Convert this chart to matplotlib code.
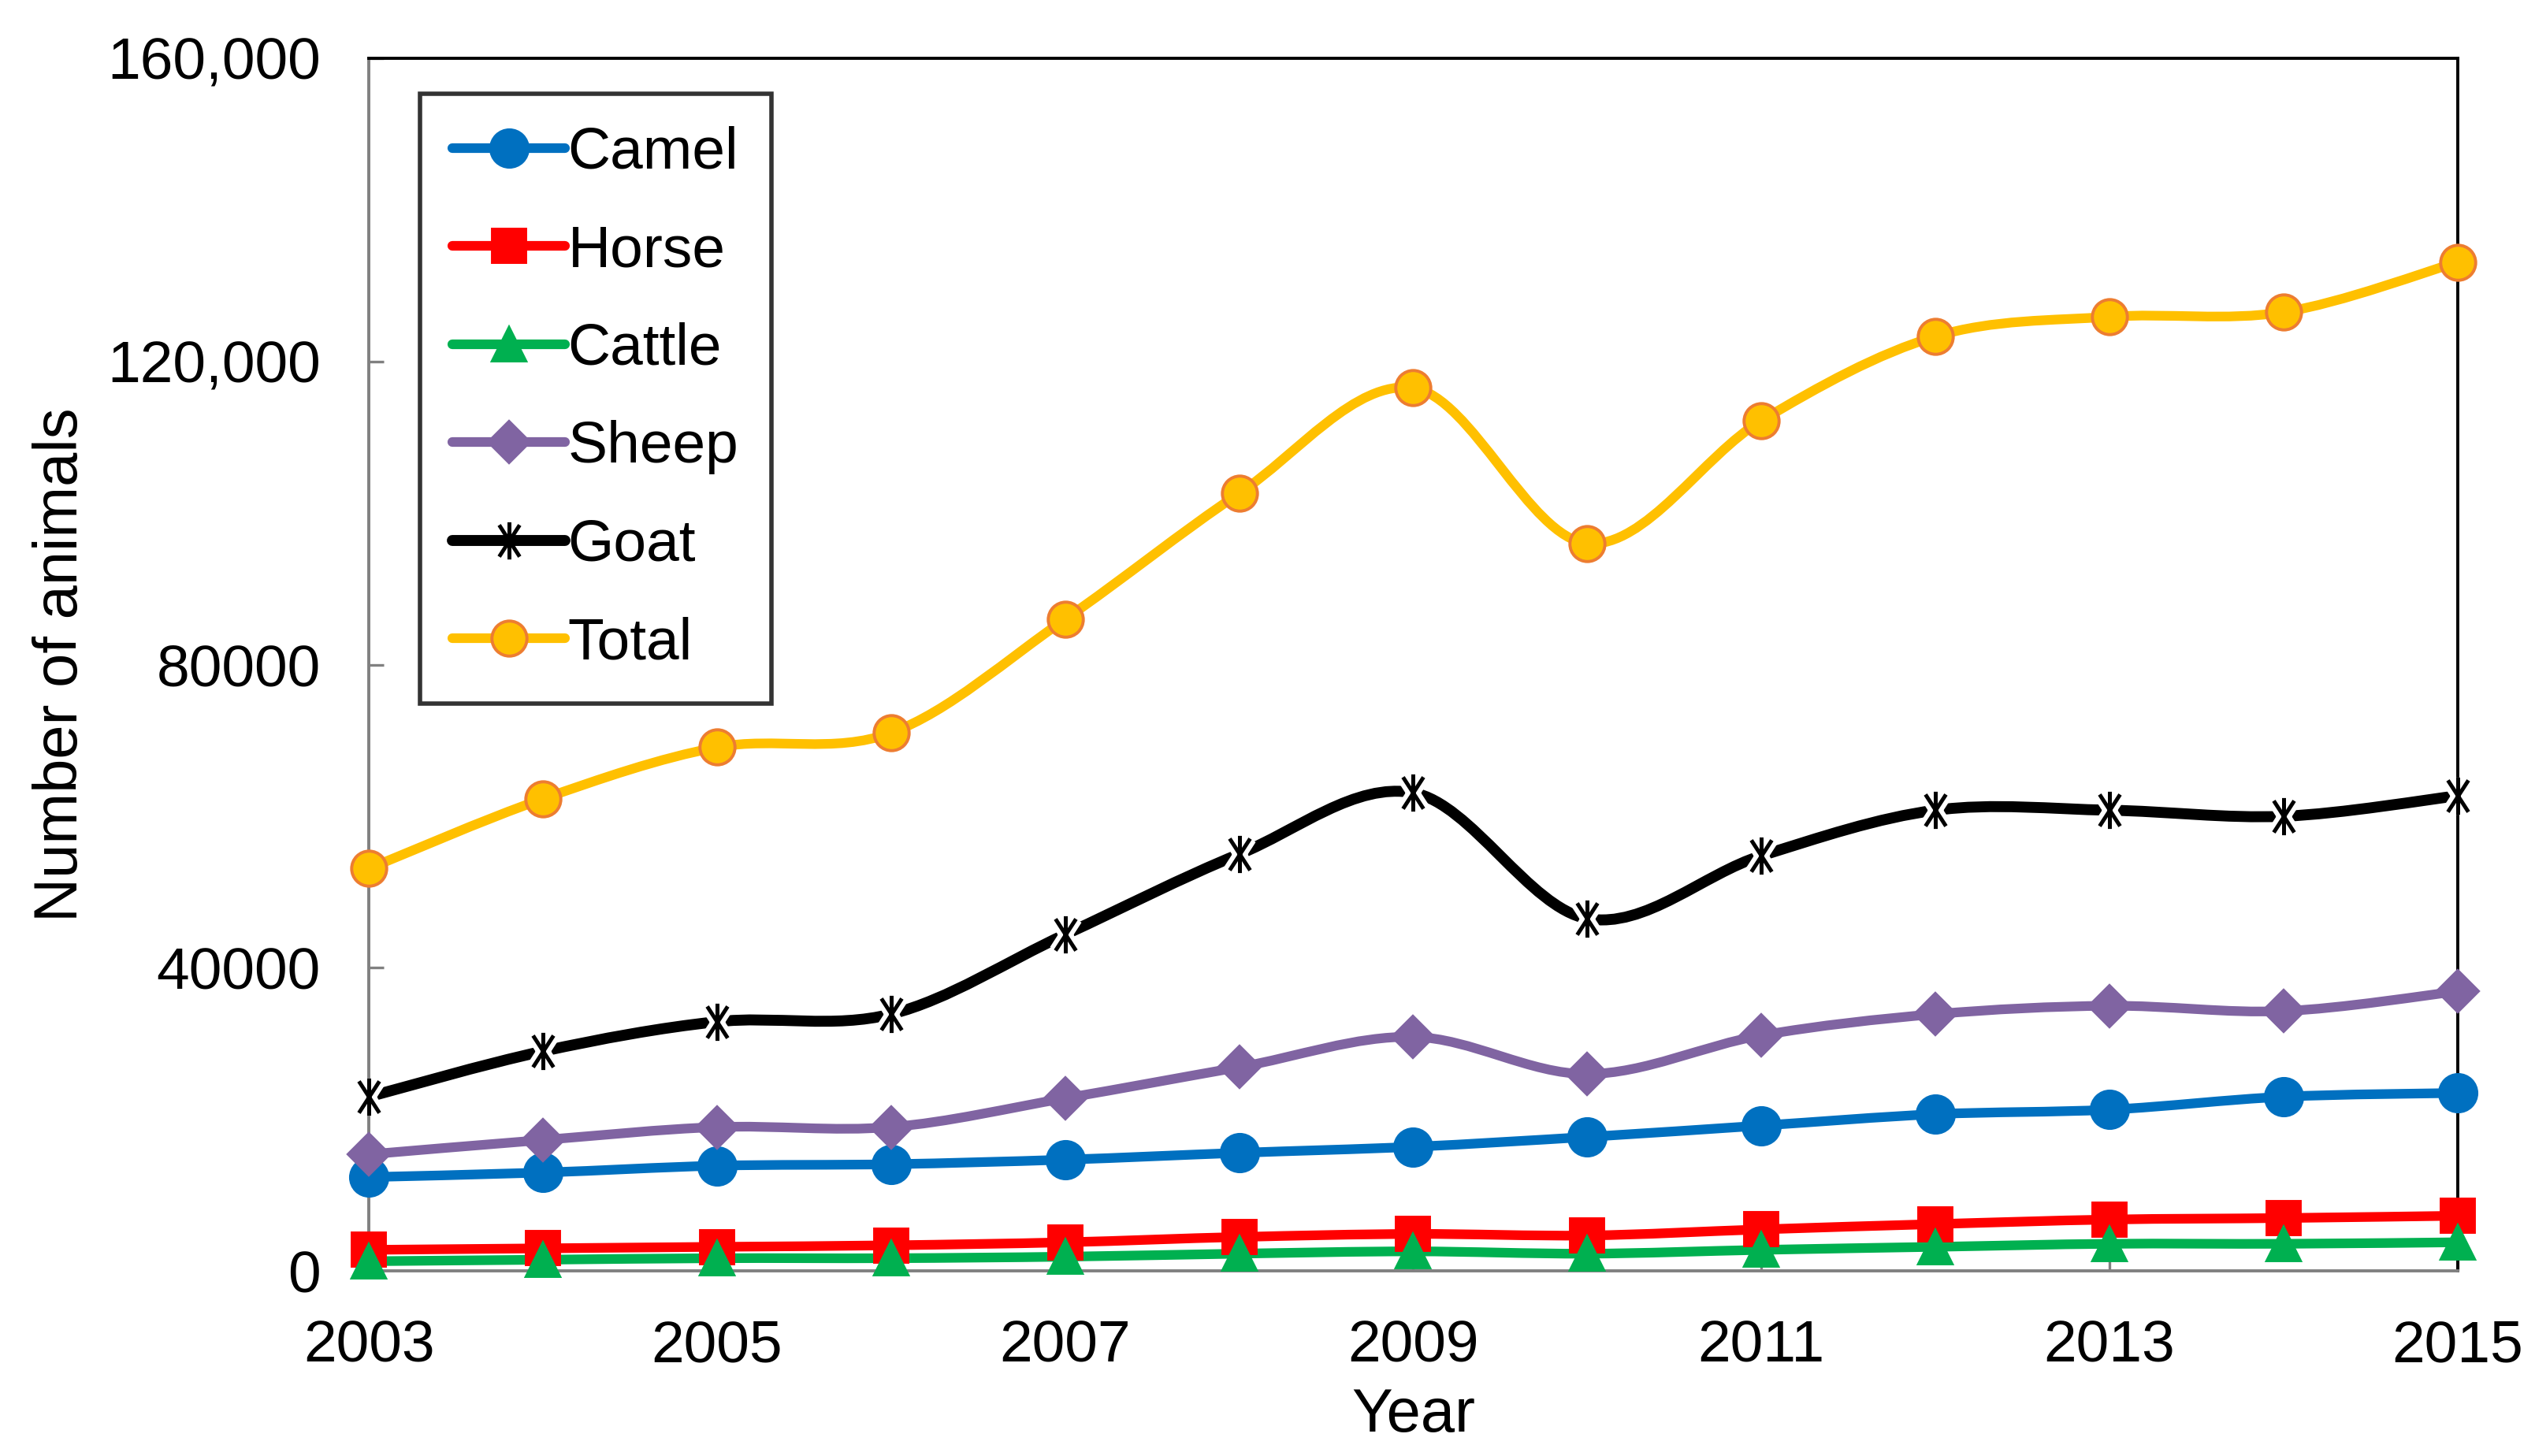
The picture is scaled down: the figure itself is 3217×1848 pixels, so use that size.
import matplotlib.pyplot as plt
import numpy as np
from matplotlib.path import Path
from matplotlib.patches import PathPatch

plt.rcParams['font.family'] = ['Liberation Sans', 'DejaVu Sans']

years = [2003, 2004, 2005, 2006, 2007, 2008, 2009, 2010, 2011, 2012, 2013, 2014, 2015]
camel = [12400, 13000, 13900, 14100, 14700, 15600, 16400, 17700, 19200, 20700, 21300, 23000, 23500]
horse = [2800, 3000, 3200, 3400, 3800, 4500, 4900, 4700, 5500, 6200, 6800, 7000, 7300]
cattle = [1300, 1500, 1700, 1700, 1900, 2300, 2600, 2300, 2800, 3200, 3600, 3600, 3800]
sheep = [15400, 17300, 19000, 19000, 22800, 26900, 30900, 26000, 31100, 33900, 35000, 34300, 36900]
goat = [23000, 29000, 32900, 33900, 44400, 55000, 63100, 46500, 54800, 60800, 60800, 60000, 62700]
total = [53100, 62300, 69100, 71000, 86000, 102600, 116500, 96000, 112200, 123300, 125900, 126500, 133100]

ytick_vals = [0, 40000, 80000, 120000, 160000]
ytick_labels = ['0', '40000', '80000', '120,000', '160,000']
xtick_vals = [2003, 2005, 2007, 2009, 2011, 2013, 2015]

# star marker like Excel's (vertical bar + steep X)
star = Path([(0, -1), (0, 1), (-0.55, -0.85), (0.55, 0.85), (-0.55, 0.85), (0.55, -0.85)],
            [Path.MOVETO, Path.LINETO, Path.MOVETO, Path.LINETO, Path.MOVETO, Path.LINETO])


def smooth_path(x, y):
    # Excel-style smoothed line as cubic bezier segments
    pts = np.column_stack([x, y]).astype(float)
    n = len(pts)
    verts = [pts[0]]
    codes = [Path.MOVETO]
    for i in range(n - 1):
        p0 = pts[i - 1] if i > 0 else pts[i]
        p1 = pts[i]
        p2 = pts[i + 1]
        p3 = pts[i + 2] if i + 2 < n else pts[i + 1]
        c1 = p1 + (p2 - p0) / 6
        c2 = p2 - (p3 - p1) / 6
        verts += [c1, c2, p2]
        codes += [Path.CURVE4] * 3
    return Path(verts, codes)


fig = plt.figure(figsize=(16.085, 9.24), dpi=200)
ax = fig.add_axes([0.1455, 0.127, 0.824, 0.833])

series = [
    ('Camel', camel, '#0070C0', 'o', '#0070C0', '#0070C0', 17),
    ('Horse', horse, '#FF0000', 's', '#FF0000', '#FF0000', 15),
    ('Cattle', cattle, '#00B050', '^', '#00B050', '#00B050', 15),
    ('Sheep', sheep, '#8064A2', 'D', '#8064A2', '#8064A2', 13),
    ('Goat', goat, '#000000', star, 'none', '#000000', 17),
    ('Total', total, '#FFC000', 'o', '#FFC000', '#ED7D31', 16),
]

lw = 4.4
handles = []
for name, vals, col, mk, fc, ec, ms in series:
    width = 5.0 if name == 'Goat' else lw
    patch = PathPatch(smooth_path(years, vals), facecolor='none', edgecolor=col,
                      lw=width, capstyle='round', joinstyle='round', clip_on=False, zorder=3)
    ax.add_patch(patch)
    if name == 'Goat':
        ax.plot(years, vals, linestyle='none', marker=mk, ms=ms, mec='white', mew=6,
                clip_on=False, zorder=4)
        ax.plot(years, vals, linestyle='none', marker=mk, ms=ms, mec=ec, mew=1.8,
                clip_on=False, zorder=5)
        h, = ax.plot([], [], color=col, lw=width, marker=mk, ms=ms, mec=ec, mew=1.8,
                     solid_capstyle='round')
    else:
        ax.plot(years, vals, linestyle='none', marker=mk, ms=ms, mfc=fc, mec=ec,
                mew=1.4, clip_on=False, zorder=5)
        h, = ax.plot([], [], color=col, lw=width, marker=mk, ms=ms, mfc=fc, mec=ec,
                     mew=1.4, solid_capstyle='round')
    h.set_label(name)
    handles.append(h)

ax.set_xlim(2003, 2015)
ax.set_ylim(0, 160000)
ax.set_xticks(xtick_vals)
ax.set_xticklabels([str(v) for v in xtick_vals])
ax.set_yticks(ytick_vals)
ax.set_yticklabels(ytick_labels)
ax.tick_params(axis='both', direction='in', length=7, width=1.2, color='#808080',
               labelsize=27, pad=22)

ax.spines['left'].set_color('#808080')
ax.spines['bottom'].set_color('#808080')
ax.spines['top'].set_color('black')
ax.spines['right'].set_color('black')
for s in ax.spines.values():
    s.set_linewidth(1.4)

ax.set_xlabel('Year', fontsize=28, labelpad=6)
ax.set_ylabel('Number of animals', fontsize=28, labelpad=8)

leg = ax.legend(handles=handles, loc='upper left', bbox_to_anchor=(0.0245, 0.971),
                fontsize=27, frameon=True, fancybox=False, edgecolor='black',
                handlelength=1.9, handletextpad=0.05, labelspacing=0.74,
                borderpad=0.55, borderaxespad=0)
leg.get_frame().set_linewidth(2.0)

fig.savefig('out.png', dpi=200)
